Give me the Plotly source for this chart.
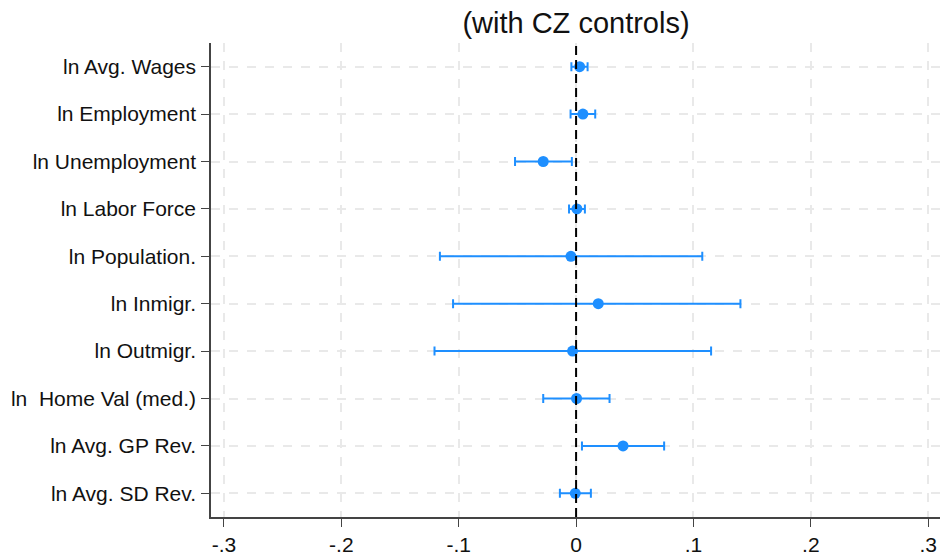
import plotly.graph_objects as go

labels = ["ln Avg. Wages", "ln Employment", "ln Unemployment", "ln Labor Force",
          "ln Population.", "ln Inmigr.", "ln Outmigr.", "ln\u00a0 Home Val (med.)",
          "ln Avg. GP Rev.", "ln Avg. SD Rev."]
coef = [0.003, 0.0058, -0.028, 0.0007, -0.0044, 0.0189, -0.003, 0.0004, 0.040, -0.0007]
ci_low = [-0.004, -0.0047, -0.052, -0.006, -0.116, -0.1048, -0.1206, -0.028, 0.005, -0.0138]
ci_high = [0.0098, 0.0163, -0.0036, 0.0075, 0.1075, 0.140, 0.115, 0.0285, 0.075, 0.0126]
xticks = [-0.3, -0.2, -0.1, 0, 0.1, 0.2, 0.3]
xticktext = ["-.3", "-.2", "-.1", "0", ".1", ".2", ".3"]

plus = [h - c for h, c in zip(ci_high, coef)]
minus = [c - l for c, l in zip(coef, ci_low)]

blue = "#1E8FFF"
fig = go.Figure()
fig.add_trace(go.Scatter(
    x=coef, y=labels, mode="markers",
    marker=dict(color=blue, size=11),
    error_x=dict(type="data", symmetric=False, array=plus, arrayminus=minus,
                 color=blue, thickness=2, width=4.5),
    showlegend=False, hoverinfo="skip",
))

fig.add_shape(type="line", x0=0, x1=0, xref="x", y0=0, y1=1, yref="paper",
              line=dict(color="black", width=2, dash="9px,5px"))

fig.update_layout(
    width=945, height=554,
    margin=dict(l=211, r=5, t=43, b=37),
    paper_bgcolor="white", plot_bgcolor="white",
    font=dict(family="Liberation Sans, Arial, sans-serif", size=21, color="#111"),
    title=dict(text="(with CZ controls)", x=576 / 945, xanchor="center",
               y=1 - 23 / 554, yanchor="middle", font=dict(size=29, color="#111")),
    xaxis=dict(range=[-0.311, 0.31], tickvals=xticks, ticktext=xticktext,
               showgrid=True, gridcolor="#e9e9e9", griddash="dash", gridwidth=1.5,
               zeroline=False, showline=True, linecolor="#444", linewidth=1.5,
               ticks="outside", ticklen=8, tickcolor="#444", automargin=False,
               ticklabelstandoff=0),
    yaxis=dict(type="category", categoryorder="array", categoryarray=labels,
               range=[9.5, -0.5], showgrid=True, gridcolor="#e9e9e9", griddash="dash",
               gridwidth=1.5, zeroline=False, showline=True, linecolor="#444",
               linewidth=1.5, ticks="outside", ticklen=8, tickcolor="#444",
               automargin=False, ticklabelstandoff=1),
)

fig.write_html("out.html", config={"displayModeBar": False},
               post_script="document.body.style.margin='0';")
